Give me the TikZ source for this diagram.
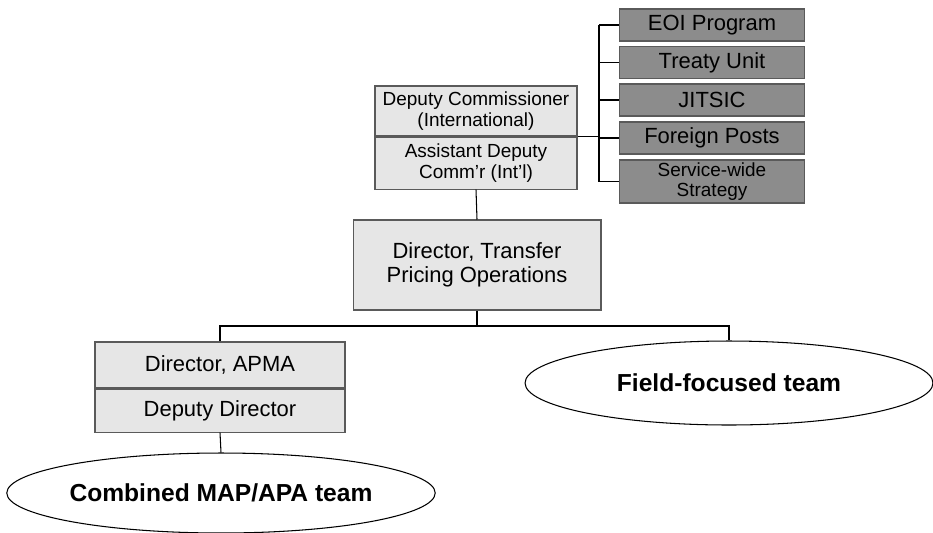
\documentclass[tikz,border=0pt]{standalone}
\usepackage{fontspec}
\setmainfont{Liberation Sans}
\usetikzlibrary{positioning, shapes.geometric}

\definecolor{panelgray}{HTML}{E6E6E6}
\definecolor{unitgray}{HTML}{8C8C8C}
\definecolor{edgegray}{HTML}{5A5A5A}

\tikzset{
  x=0.02cm, y=-0.02cm,
  office/.style={
    draw=edgegray, fill=panelgray, line width=0.6pt,
    align=center, inner sep=0pt, minimum width=#1
  },
  office/.default=4.04cm,
  unit/.style={
    draw=edgegray, fill=unitgray, line width=0.9pt,
    align=center, inner sep=0pt, minimum width=3.7cm, minimum height=0.64cm,
    font=\fontsize{12.5}{13}\selectfont
  },
  team/.style={
    ellipse, draw=black, fill=white, line width=0.6pt, inner sep=0pt,
    font=\fontsize{14}{16}\selectfont\bfseries
  },
  link/.style={draw=black, line width=0.6pt}
}

\begin{document}
\begin{tikzpicture}
  \useasboundingbox (0,0) rectangle (933,532);

  % deputy commissioner office (two stacked panels)
  \node[office, minimum height=1.0cm, font=\fontsize{10.8}{11.6}\selectfont] (dc) at (476,111)
    {Deputy Commissioner\\(International)};
  \node[office, minimum height=1.04cm, font=\fontsize{10.8}{11.6}\selectfont, below=0pt of dc] (adc)
    {Assistant Deputy\\Comm'r (Int'l)};

  % units reporting to the deputy commissioner
  \node[unit] (eoi) at (712,25) {EOI Program};
  \node[unit] (treaty) at (712,62.5) {Treaty Unit};
  \node[unit] (jitsic) at (712,100) {JITSIC};
  \node[unit] (posts) at (712,138) {Foreign Posts};
  \node[unit, minimum height=0.86cm, font=\fontsize{10.8}{11.2}\selectfont] (svc) at (712,181.5)
    {Service-wide\\Strategy};

  \node[office=4.96cm, minimum height=1.8cm, font=\fontsize{12.5}{13.4}\selectfont] (tp) at (477,265)
    {Director, Transfer\\Pricing Operations};

  \node[office=5cm, minimum height=0.92cm, font=\fontsize{12.5}{13}\selectfont] (apma) at (220,365)
    {Director, APMA};
  \node[office=5cm, minimum height=0.86cm, font=\fontsize{12.5}{13}\selectfont, below=0pt of apma] (dd)
    {Deputy Director};

  \node[team, minimum width=8.44cm, minimum height=1.6cm] (map) at (221,493) {Combined MAP/APA team};
  \node[team, minimum width=8.16cm, minimum height=1.68cm] (fld) at (729,383) {Field-focused team};

  % bracket out to the units
  \coordinate (spine) at (599,0);
  \coordinate (bar) at (0,326);
  \draw[link] (eoi.west -| spine) -- (svc.west -| spine);
  \foreach \u in {eoi,treaty,jitsic,posts,svc}
    \draw[link] (\u.west -| spine) -- (\u.west);
  \draw[link] (dc.south east) -- (dc.south east -| spine);

  % reporting lines
  \draw[link] (adc.south) -- (tp.north);
  \draw[link] (tp.south) -- (tp.south |- bar);
  \draw[link] (apma.north) -- (apma.north |- bar) -| (fld.north);
  \draw[link] (dd.south) -- (map.north);
\end{tikzpicture}
\end{document}
